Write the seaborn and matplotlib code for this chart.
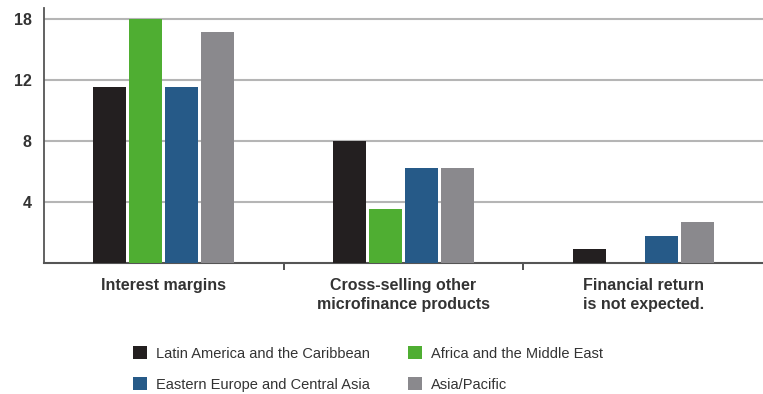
import matplotlib
matplotlib.use("Agg")
import matplotlib.pyplot as plt
import seaborn as sns
import pandas as pd
from matplotlib.patches import Patch

categories = ["Interest margins",
              "Cross-selling other\nmicrofinance products",
              "Financial return\nis not expected."]
regions = ["Latin America and the Caribbean", "Africa and the Middle East",
           "Eastern Europe and Central Asia", "Asia/Pacific"]
latin = [13, 9, 1]
africa = [18, 4, 0]
eastern = [13, 7, 2]
asia = [17, 7, 3]
tick_values = [4.5, 9, 13.5, 18]
tick_labels = ["4", "8", "12", "18"]
colors = ["#231f20", "#4fae32", "#265a88", "#8a898d"]

rows = []
for reg, vals in zip(regions, [latin, africa, eastern, asia]):
    for cat, v in zip(categories, vals):
        rows.append({"category": cat, "region": reg, "value": v})
df = pd.DataFrame(rows)

sns.set_style("white")
plt.rcParams["font.family"] = ["Liberation Sans", "DejaVu Sans"]

fig = plt.figure(figsize=(7.63, 3.94), dpi=100)
ax = fig.add_axes([44 / 763, 1 - 263 / 394, 1 - 44 / 763, (263 - 8) / 394])

sns.barplot(data=df, x="category", y="value", hue="region", hue_order=regions,
            order=categories, palette=colors, width=0.6, gap=0.08,
            saturation=1, ax=ax, legend=False, zorder=3, linewidth=0)

ax.set_xlim(-0.5, 2.5)
ax.set_ylim(0, 18.8)
ax.set_yticks(tick_values)
ax.set_yticklabels(tick_labels)
for t in tick_values:
    ax.axhline(t, color="#b5b5b5", lw=1.5, zorder=1)

ax.set_xlabel("")
ax.set_ylabel("")
for s in ["top", "right"]:
    ax.spines[s].set_visible(False)
ax.spines["left"].set_color("#555555")
ax.spines["left"].set_linewidth(1.3)
ax.spines["bottom"].set_color("#555555")
ax.spines["bottom"].set_linewidth(1.5)

ax.tick_params(axis="y", length=0, pad=9, labelsize=11.5, labelcolor="#333333")
ax.tick_params(axis="x", which="major", length=0, pad=11, labelsize=11.5,
               labelcolor="#333333")
for lbl in ax.get_xticklabels():
    lbl.set_fontweight("bold")
    lbl.set_linespacing(1.3)
for lbl in ax.get_yticklabels():
    lbl.set_fontweight("bold")
ax.set_xticks([0.5, 1.5], minor=True)
ax.tick_params(axis="x", which="minor", length=5, width=1.2, color="#333333",
               direction="out", bottom=True)

handles = [Patch(facecolor=c, edgecolor="none") for c in colors]
order = [0, 2, 1, 3]
leg = fig.legend([handles[i] for i in order], [regions[i] for i in order],
                 ncol=2, loc="center", bbox_to_anchor=(0.482, 1 - 369 / 394),
                 frameon=False, fontsize=10.5, handlelength=1.0, handleheight=1.0,
                 handletextpad=0.6, columnspacing=2.6, labelspacing=1.15,
                 labelcolor="#333333")

fig.savefig("out.png", dpi=100)
